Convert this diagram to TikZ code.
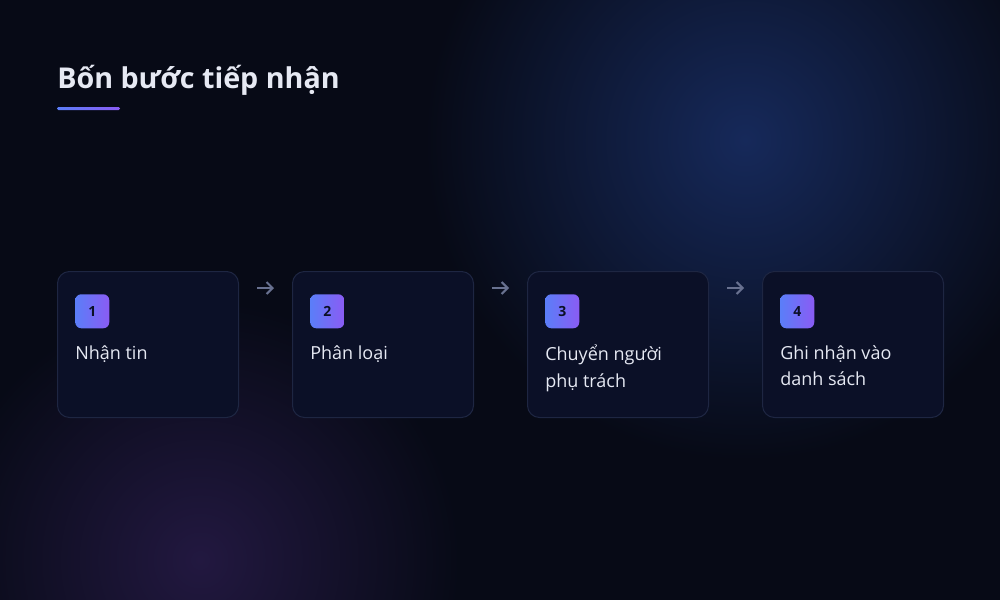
\documentclass[tikz,border=0pt]{standalone}
\usepackage{fontspec}
\setmainfont{Open Sans}
\usetikzlibrary{arrows.meta}
\definecolor{bg}{HTML}{070A16}
\definecolor{glowblue}{HTML}{16295A}
\definecolor{glowpurple}{HTML}{221840}
\definecolor{cardfill}{HTML}{0B1027}
\definecolor{cardline}{HTML}{1E2642}
\definecolor{gblue}{HTML}{5B7EF8}
\definecolor{gpurple}{HTML}{8A5CF4}
\definecolor{txt}{HTML}{E6E9F3}
\definecolor{arrowc}{HTML}{687190}
\definecolor{numc}{HTML}{0B1027}
\tikzset{
  card/.style={draw=cardline, line width=0.75pt, fill=cardfill, rounded corners=9pt,
    minimum width=135.75pt, minimum height=109.5pt, inner sep=0pt},
  badge/.style={rounded corners=4.5pt, minimum width=25.5pt, minimum height=25.5pt,
    inner sep=0pt, left color=gblue, right color=gpurple, text=numc,
    font=\fontsize{10.5pt}{12pt}\selectfont\bfseries},
  lbl/.style={text=txt, anchor=north west, align=left, inner sep=0pt,
    font=\fontsize{13.5pt}{20pt}\selectfont},
  arr/.style={draw=arrowc, line width=1.5pt, -{Straight Barb[length=4.5pt,width=9pt]}}
}
\begin{document}
\begin{tikzpicture}[x=0.75pt,y=-0.75pt]
\useasboundingbox (0,0) rectangle (1000,600);
\fill[bg] (0,0) rectangle (1000,600);
\shade[inner color=glowblue, outer color=bg] (745,140) circle (320);
\shade[inner color=glowpurple, outer color=bg] (200,560) circle (260);
% title
\node[anchor=base west, inner sep=0pt, text=txt, font=\fontsize{21.5pt}{24pt}\selectfont\bfseries] (title) at (57,88) {Bốn bước tiếp nhận};
\shade[left color=gblue, right color=gpurple, rounded corners=1pt] (57,107) rectangle (120,110);
% cards
\foreach \i/\x/\t in {1/57/{Nhận tin},2/292/{Phân loại},3/527/{Chuyển người\\phụ trách},4/762/{Ghi nhận vào\\danh sách}}{
  \node[card, anchor=north west] (c\i) at (\x,271) {};
  \node[badge, anchor=north west] (b\i) at (\x+18,294) {\i};
  \node[lbl] (l\i) at (\x+18,345) {\t};
}
\foreach \a/\b in {1/2,2/3,3/4}{
  \draw[arr] ([xshift=13.5pt,yshift=-12.75pt]c\a.north east) -- ([xshift=-13.5pt,yshift=-12.75pt]c\b.north west);
}
\end{tikzpicture}
\end{document}
